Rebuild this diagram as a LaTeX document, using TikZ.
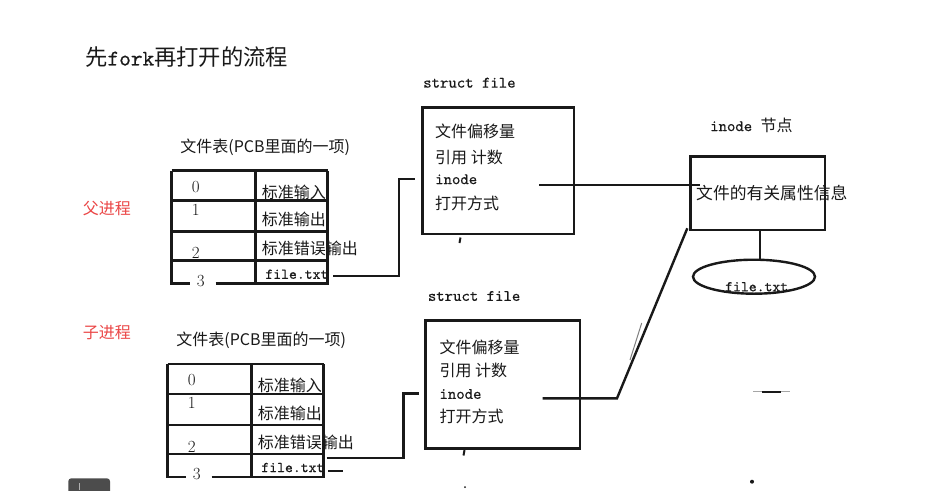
\documentclass[tikz,border=0pt]{standalone}
\usepackage{fontspec}
\newfontfamily\cjk{Noto Sans CJK SC}
\newfontfamily\ttw{lmmono10-regular.otf}[FakeBold=0.4]
\usetikzlibrary{shapes.geometric}
\definecolor{ink}{RGB}{25,25,25}
\definecolor{redlbl}{RGB}{235,70,70}
\newcommand\FileTable[3]{% prefix, x, y
\begin{scope}[shift={(#2,#3)}]
  \coordinate (#1-tl) at (0,0);
  \draw[frame] (0,0) -- (156,0);
  \draw[frame] (0,0) -- (0,113) -- (18.5,113);
  \draw[frame] (44,113) -- (156,113) -- (156,0);
  \draw[frame] (84,0) -- (84,113);
  \draw[frame] (0,30) -- (156,30);
  \draw[frame] (0,61) -- (156,61);
  \draw[frame] (0,90) -- (156,90);
  \node[num] (#1-n0) at (24,16) {0};
  \node[num] (#1-n1) at (24,39) {1};
  \node[num] (#1-n2) at (24,82.5) {2};
  \node[num] (#1-n3) at (29,110) {3};
  \node[cn] (#1-in)  at (90,21.5) {标准输入};
  \node[cn] (#1-out) at (90,49) {标准输出};
  \node[cn] (#1-err) at (90,78) {标准错误输出};
  \node[tt,font=\ttw\fontsize{15}{15}\selectfont] (#1-file) at (93.5,103.5) {file.txt};
  \node[cn] (#1-lbl) at (8.5,-23.5) {文件表(PCB里面的一项)};
\end{scope}}
\begin{document}
\begin{tikzpicture}[x=1pt,y=-1pt,line join=miter,
  frame/.style={line width=2.6pt,draw=ink},
  conn/.style={line width=2.4pt,draw=ink},
  cn/.style={font=\cjk\fontsize{16}{16}\selectfont,text=ink,inner sep=0pt,anchor=west},
  tt/.style={font=\ttw\fontsize{16}{16}\selectfont,text=ink,inner sep=0pt,anchor=west},
  num/.style={font=\fontsize{17}{17}\selectfont,text=ink,inner sep=0pt},
  sbox/.style={draw=ink,line width=2.6pt,rectangle,inner sep=0pt},
  artifact/.style={draw=gray,line width=1pt}]
\useasboundingbox[fill=white] (0,0) rectangle (929,490);

% title
\node[cn,font=\cjk\fontsize{22.3}{22.3}\selectfont] (title) at (85,57) {先{\ttw fork}再打开的流程};

% process labels
\node[cn,text=redlbl] (parent) at (82.7,208) {父进程};
\node[cn,text=redlbl] (child) at (82.7,332.7) {子进程};

% file tables
\FileTable{pt}{171.7}{170.7}
\FileTable{ct}{167.7}{364}

% struct file boxes
\node[tt] (sf1lbl) at (423,82.7) {struct file};
\node[sbox,minimum width=151.7pt,minimum height=126.7pt] (sf1) at (498.2,170.7) {};
\node[cn] (sf1a) at (435,131.7) {文件偏移量};
\node[cn] (sf1b) at (435,157.3) {引用 计数};
\node[tt] (sf1c) at (435,179.3) {inode};
\node[cn] (sf1d) at (435,203.3) {打开方式};

\node[tt] (sf2lbl) at (427.7,296) {struct file};
\node[sbox,minimum width=154.3pt,minimum height=127.6pt] (sf2) at (502.9,384.5) {};
\node[cn] (sf2a) at (439.3,347.7) {文件偏移量};
\node[cn] (sf2b) at (439.3,370.7) {引用 计数};
\node[tt] (sf2c) at (439.3,394) {inode};
\node[cn] (sf2d) at (439.3,416.7) {打开方式};

% inode node
\node[tt] (inolbl) at (710,125) {inode {\cjk 节点}};
\node[sbox,minimum width=134.3pt,minimum height=73.3pt] (ino) at (757.9,193.4) {};
\node[cn,font=\cjk\fontsize{16.8}{16.8}\selectfont] (inotxt) at (696,193.3) {文件的有关属性信息};
\node[draw=ink,line width=2.4pt,ellipse,minimum width=122pt,minimum height=34pt,inner sep=0pt] (ell) at (754,276.7) {};
\node[font=\ttw\fontsize{15}{15}\selectfont,text=ink,inner sep=0pt] (elltxt) at (756.7,286.7) {file.txt};

% connector coordinates
\coordinate (p1) at (333,276);
\coordinate (p2) at (399,276);
\coordinate (p3) at (399,179);
\coordinate (p4) at (415,179);
\coordinate (c1) at (326.7,458);
\coordinate (c2) at (403.3,458);
\coordinate (c3) at (403.3,393.3);
\coordinate (c4) at (419.3,393.3);
\coordinate (c5) at (328,471);
\coordinate (c6) at (342.7,471);
\coordinate (i1) at (539,185);
\coordinate (i2) at (700,185);
\coordinate (j1) at (542.7,398.3);
\coordinate (j2) at (617,398.3);
\coordinate (j3) at (687.3,228.3);
\coordinate (e1) at (760,230);
\coordinate (e2) at (760,259.5);

\draw[conn] (p1) -- (p2) -- (p3) -- (p4);
\draw[conn] (c1) -- (c2) -- (c3) -- (c4);
\draw[conn] (c5) -- (c6);
\draw[conn] (i1) -- (i2);
\draw[conn] (j1) -- (j2) -- (j3);
\draw[conn] (e1) -- (e2);

% small marks present in the picture
\draw[line width=2pt,ink] (460.5,237.5) -- (459.5,243);
\draw[line width=2pt,ink] (464.5,450) -- (463.5,455.5);
\fill[ink] (465,487) circle (1pt);
\fill[ink] (752,481.7) circle (2pt);
\draw[artifact] (641.7,323) -- (630,360);
\draw[draw=gray!70,line width=1.2pt] (753,391.7) -- (790,391.7);
\draw[draw=ink,line width=1.2pt] (762,392) -- (781,392);
\fill[black!70,rounded corners=3pt] (68.3,478.3) rectangle (110,494);
\draw[gray!60,line width=0.8pt] (79,483) -- (79,490);
\end{tikzpicture}
\end{document}
